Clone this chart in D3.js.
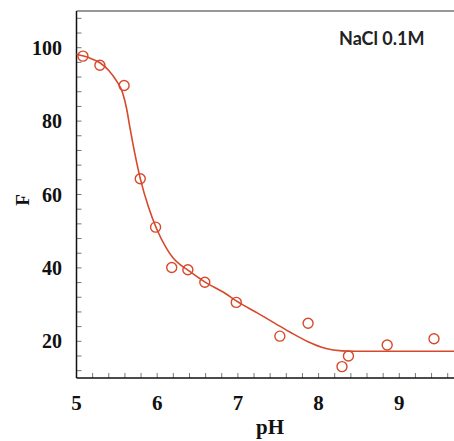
<!DOCTYPE html>
<html>
<head>
<meta charset="utf-8">
<script src="https://cdn.jsdelivr.net/npm/d3@7"></script>
<style>
  html, body { margin: 0; padding: 0; background: #fff; }
  svg { display: block; }
</style>
</head>
<body>
<svg id="chart" width="454" height="441"></svg>
<script>
// Measured data points (pH, F)
const pointPH = [5.08, 5.29, 5.59, 5.79, 5.98, 6.18, 6.38, 6.59, 6.98, 7.52, 7.87, 8.29, 8.37, 8.85, 9.43];
const pointF  = [97.7, 95.2, 89.7, 64.3, 51.1, 40.1, 39.5, 36.1, 30.6, 21.4, 24.9, 13.1, 16.0, 19.0, 20.7];

// Fitted curve
const curvePH = [5.0, 5.15, 5.29, 5.4, 5.5, 5.57, 5.62, 5.66, 5.72, 5.79, 5.89, 5.99, 6.11, 6.2, 6.3, 6.38, 6.59, 6.84, 6.98, 7.25, 7.46, 7.67, 7.87, 8.08, 8.29, 8.45, 9.7];
const curveF  = [98.2, 97.3, 95.9, 93.8, 90.8, 87.8, 83.5, 78.5, 71.5, 64.4, 56.7, 50.8, 45.5, 42.6, 40.6, 39.4, 36.2, 33.1, 31.0, 27.6, 24.9, 22.2, 19.9, 18.1, 17.4, 17.3, 17.3];

const xTicks = [5, 6, 7, 8, 9];
const yTicks = [20, 40, 60, 80, 100];
const xLabel = "pH";
const yLabel = "F";
const annotation = "NaCl 0.1M";

const svg = d3.select("#chart");
const x = d3.scaleLinear().domain([5, 9.678]).range([76.5, 454]);
const y = d3.scaleLinear().domain([10, 110]).range([378, 11]);

const red = "#d6492b";
const serif = "'Liberation Serif', 'Times New Roman', serif";

// minor ticks (inward)
const xMinor = d3.range(5, 9.7, 0.2);
const yMinor = d3.range(12, 110, 4);

svg.append("g").selectAll("line").data(xMinor).join("line")
  .attr("x1", d => x(d)).attr("x2", d => x(d))
  .attr("y1", y(10)).attr("y2", y(10) - 5)
  .attr("stroke", "#777").attr("stroke-width", 1);

svg.append("g").selectAll("line").data(yMinor).join("line")
  .attr("x1", x(5)).attr("x2", x(5) + 5)
  .attr("y1", d => y(d)).attr("y2", d => y(d))
  .attr("stroke", "#777").attr("stroke-width", 1);

// axes lines
svg.append("line").attr("x1", x(5)).attr("x2", 454).attr("y1", y(10)).attr("y2", y(10))
  .attr("stroke", "#111").attr("stroke-width", 1.5);
svg.append("line").attr("x1", x(5)).attr("x2", x(5)).attr("y1", y(110)).attr("y2", y(10))
  .attr("stroke", "#111").attr("stroke-width", 1.5);
svg.append("line").attr("x1", x(5)).attr("x2", 454).attr("y1", y(110)).attr("y2", y(110))
  .attr("stroke", "#333").attr("stroke-width", 1.2);

// tick labels
svg.append("g").selectAll("text").data(xTicks).join("text")
  .attr("x", d => x(d)).attr("y", 410)
  .attr("text-anchor", "middle")
  .attr("font-family", serif).attr("font-weight", "bold").attr("font-size", 21)
  .attr("fill", "#111")
  .text(d => d);

svg.append("g").selectAll("text").data(yTicks).join("text")
  .attr("x", 62).attr("y", d => y(d))
  .attr("dy", "0.35em")
  .attr("text-anchor", "end")
  .attr("font-family", serif).attr("font-weight", "bold").attr("font-size", 20)
  .attr("fill", "#111")
  .text(d => d);

// axis titles
svg.append("text").attr("x", 270).attr("y", 434)
  .attr("text-anchor", "middle")
  .attr("font-family", serif).attr("font-weight", "bold").attr("font-size", 21)
  .attr("fill", "#111").text(xLabel);

svg.append("text")
  .attr("transform", "translate(29,200) rotate(-90)")
  .attr("text-anchor", "middle")
  .attr("font-family", serif).attr("font-weight", "bold").attr("font-size", 19)
  .attr("fill", "#111").text(yLabel);

// annotation
svg.append("text").attr("x", 339).attr("y", 45)
  .attr("font-family", "Lato, 'Open Sans', sans-serif").attr("font-weight", "bold").attr("font-size", 18)
  .attr("fill", "#222").text(annotation);

// fitted curve
const curveData = curvePH.map((v, i) => [v, curveF[i]]);
svg.append("path")
  .datum(curveData)
  .attr("fill", "none")
  .attr("stroke", red)
  .attr("stroke-width", 1.6)
  .attr("d", d3.line().x(d => x(d[0])).y(d => y(d[1])).curve(d3.curveMonotoneX));

// points
const pts = pointPH.map((v, i) => [v, pointF[i]]);
svg.append("g").selectAll("circle").data(pts).join("circle")
  .attr("cx", d => x(d[0])).attr("cy", d => y(d[1]))
  .attr("r", 5)
  .attr("fill", "none")
  .attr("stroke", red)
  .attr("stroke-width", 1.4);
</script>
</body>
</html>
